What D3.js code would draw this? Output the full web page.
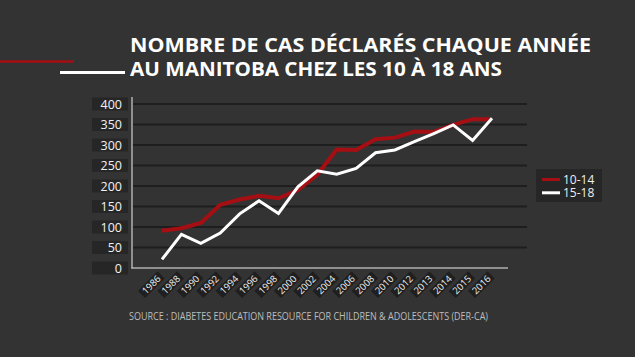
<!DOCTYPE html>
<html><head><meta charset="utf-8">
<script src="https://cdn.jsdelivr.net/npm/d3@7"></script>
<style>
html,body{margin:0;padding:0;background:#333333;}
svg{display:block;}
</style></head>
<body>
<svg id="c" width="635" height="357"></svg>
<script>
const years = ["1986","1988","1990","1992","1994","1996","1998","2000","2002","2004","2006","2008","2010","2012","2013","2014","2015","2016"];
const s1014 = [91,97,110,154,167,176,170,190,228,289,288,314,318,333,332,349,363,363];
const s1518 = [21,82,60,85,132,164,133,198,237,229,243,281,288,308,328,349,311,365];
const yTicks = [0,50,100,150,200,250,300,350,400];
const seriesNames = ["10-14","15-18"];
const colors = ["#a50f14","#ffffff"];
const titleLines = ["NOMBRE DE CAS DÉCLARÉS CHAQUE ANNÉE","AU MANITOBA CHEZ LES 10 À 18 ANS"];
const sourceText = "SOURCE : DIABETES EDUCATION RESOURCE FOR CHILDREN & ADOLESCENTS (DER-CA)";

const svg = d3.select("#c");
svg.append("rect").attr("width",635).attr("height",357).attr("fill","#333333");

// decorative lines
svg.append("line").attr("x1",0).attr("x2",74).attr("y1",61.5).attr("y2",61.5).attr("stroke","#a50f14").attr("stroke-width",2.5);
svg.append("line").attr("x1",60).attr("x2",125).attr("y1",72.5).attr("y2",72.5).attr("stroke","#ffffff").attr("stroke-width",3);

// title
const titleW = [461, 372];
titleLines.forEach((t,i)=>{
  const tx = svg.append("text").attr("x",130).attr("y",i===0?51.5:75.5)
    .attr("fill","#ffffff").attr("font-family","'Open Sans', sans-serif")
    .attr("font-weight",700).attr("font-size",20).text(t);
  const w = tx.node().getComputedTextLength();
  if (Math.abs(w - titleW[i]) > 2) tx.attr("textLength",titleW[i]).attr("lengthAdjust","spacingAndGlyphs");
});

const x = d3.scalePoint().domain(years).range([162,492]);
const y = d3.scaleLinear().domain([0,400]).range([268,104]);

// gridlines
svg.append("g").selectAll("line").data(yTicks.filter(d=>d>0)).join("line")
  .attr("x1",133).attr("x2",527).attr("y1",d=>y(d)).attr("y2",d=>y(d))
  .attr("stroke","#1e1e1e").attr("stroke-width",2);

// y axis labels with boxes
const yl = svg.append("g");
yTicks.forEach(d=>{
  yl.append("rect").attr("x",92).attr("y",y(d)-6.5).attr("width",36).attr("height",13).attr("fill","#262626");
  yl.append("text").attr("x",122).attr("y",y(d)).attr("dy","0.36em").attr("text-anchor","end")
    .attr("fill","#f2f2f2").attr("font-family","'Open Sans', sans-serif").attr("font-size",12.5).text(d);
});

// axis lines
svg.append("line").attr("x1",132).attr("x2",132).attr("y1",97).attr("y2",268.5).attr("stroke","#b0b0b0").attr("stroke-width",1.5);
svg.append("line").attr("x1",131.3).attr("x2",508).attr("y1",268).attr("y2",268).attr("stroke","#b0b0b0").attr("stroke-width",1.5);

// x labels
const xl = svg.append("g");
years.forEach(yr=>{
  const g = xl.append("g").attr("transform",`translate(${x(yr)-3},${277}) rotate(-45)`);
  const t = g.append("text").attr("x",0).attr("y",0).attr("dy","0.35em").attr("text-anchor","end")
    .attr("fill","#eeeeee").attr("font-family","'Open Sans', sans-serif").attr("font-size",9.5).text(yr);
  const w = t.node().getComputedTextLength();
  g.insert("rect","text").attr("x",-w-3).attr("y",-5).attr("width",w+6).attr("height",10).attr("fill","#1f1f1f");
});

// lines
const line = d3.line().x((d,i)=>x(years[i])).y(d=>y(d));
[s1014,s1518].forEach((s,i)=>{
  svg.append("path").datum(s).attr("d",line).attr("fill","none")
    .attr("stroke",colors[i]).attr("stroke-width",i===0?4:3).attr("stroke-linejoin","miter");
});

// legend
const lg = svg.append("g");
lg.append("rect").attr("x",536).attr("y",169).attr("width",66).attr("height",33).attr("fill","#262626");
seriesNames.forEach((n,i)=>{
  const yy = 179.5 + i*13.3;
  lg.append("line").attr("x1",542).attr("x2",560).attr("y1",yy).attr("y2",yy).attr("stroke",colors[i]).attr("stroke-width",3);
  lg.append("text").attr("x",563).attr("y",yy).attr("dy","0.36em").attr("fill","#eeeeee")
    .attr("font-family","'Open Sans', sans-serif").attr("font-size",12).text(n);
});

// source
const st = svg.append("text").attr("x",129).attr("y",319.5).attr("fill","#bdbdbd")
  .attr("font-family","'Open Sans', sans-serif").attr("font-size",10).text(sourceText);
const sw = st.node().getComputedTextLength();
if (Math.abs(sw-359)>2) st.attr("textLength",359).attr("lengthAdjust","spacingAndGlyphs");
</script>
</body></html>
